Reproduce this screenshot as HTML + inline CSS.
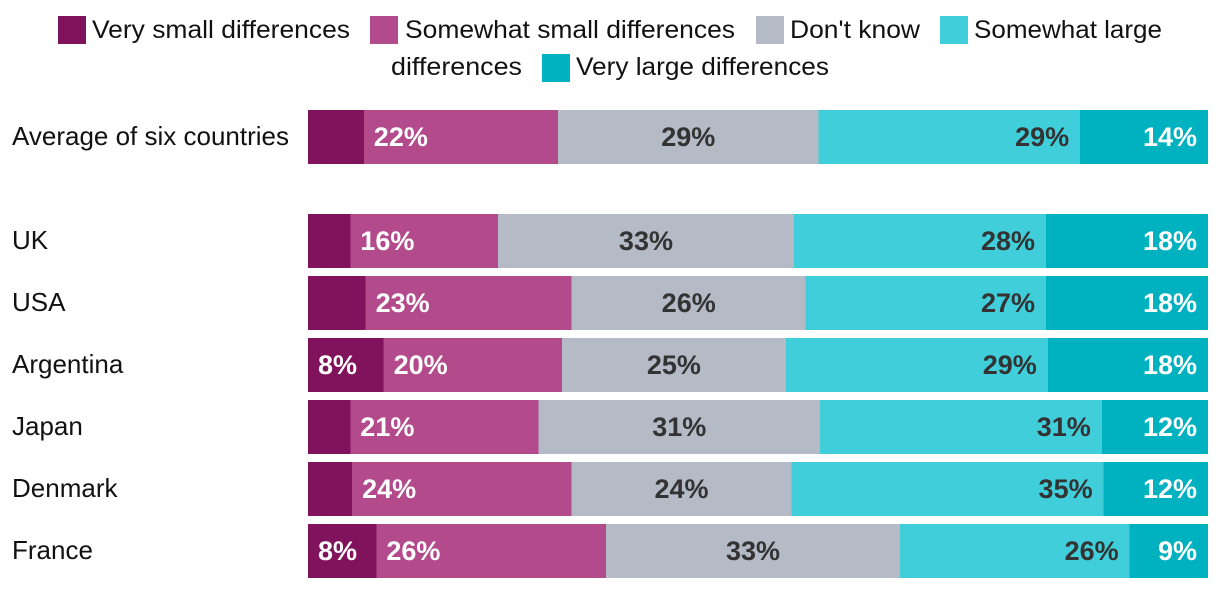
<!DOCTYPE html>
<html lang="en">
<head>
<meta charset="utf-8">
<title>Perceived differences by country</title>
<style>
  html, body { margin: 0; padding: 0; background: #fff; }
  body { width: 1220px; height: 590px; overflow: hidden; }
  svg { display: block; }
  text { font-family: "Liberation Sans", sans-serif; }
  .legend-text { font-size: 25px; fill: #111; }
  .cat-label { font-size: 26px; fill: #111; }
  .value-label { font-size: 27px; font-weight: 700; }
  rect { shape-rendering: crispEdges; }
</style>
</head>
<body>
<svg id="chart" width="1220" height="590" viewBox="0 0 1220 590" xmlns="http://www.w3.org/2000/svg">
  <g>
    <g>
      <rect x="58" y="16" width="28" height="28" fill="#81125c"/>
      <text class="legend-text" x="92" y="38" textLength="258" lengthAdjust="spacingAndGlyphs">Very small differences</text>
    </g>
    <g>
      <rect x="370" y="16" width="28" height="28" fill="#b34a8c"/>
      <text class="legend-text" x="405" y="38" textLength="330" lengthAdjust="spacingAndGlyphs">Somewhat small differences</text>
    </g>
    <g>
      <rect x="756" y="16" width="28" height="28" fill="#b4bac6"/>
      <text class="legend-text" x="790" y="38" textLength="130" lengthAdjust="spacingAndGlyphs">Don't know</text>
    </g>
    <g>
      <rect x="940" y="16" width="28" height="28" fill="#41cedb"/>
      <text class="legend-text" x="974" y="38" textLength="188" lengthAdjust="spacingAndGlyphs">Somewhat large</text>
      <text class="legend-text" x="391" y="75" textLength="131" lengthAdjust="spacingAndGlyphs">differences</text>
    </g>
    <g>
      <rect x="542" y="54" width="28" height="28" fill="#00b1bf"/>
      <text class="legend-text" x="576" y="75" textLength="253" lengthAdjust="spacingAndGlyphs">Very large differences</text>
    </g>
  </g>
  <g id="rows"></g>
</svg>
<script>
var categories = ["Average of six countries", "", "UK", "USA", "Argentina", "Japan", "Denmark", "France"];
var verySmall     = [6.2, null, 4.7, 6.4, 8.4, 4.7, 4.9, 7.6];
var somewhatSmall = [21.6, null, 16.4, 22.9, 19.8, 20.9, 24.4, 25.5];
var dontKnow      = [28.9, null, 32.9, 26.0, 24.9, 31.3, 24.4, 32.7];
var somewhatLarge = [29.1, null, 28.0, 26.7, 29.1, 31.3, 34.7, 25.5];
var veryLarge     = [14.2, null, 18.0, 18.0, 17.8, 11.8, 11.6, 8.7];

var seriesValues = [verySmall, somewhatSmall, dontKnow, somewhatLarge, veryLarge];
var seriesKeys = ["very-small", "somewhat-small", "dont-know", "somewhat-large", "very-large"];
var seriesColors = ["#81125c", "#b34a8c", "#b4bac6", "#41cedb", "#00b1bf"];
var labelColors = ["#fff", "#fff", "#333", "#333", "#fff"];

var NS = "http://www.w3.org/2000/svg";
var rowsGroup = document.getElementById("rows");
var PLOT_LEFT = 308, PLOT_WIDTH = 900, BAR_H = 54;
var MIN_LABEL_VALUE = 7.5;

function xScale(v) { return PLOT_LEFT + v / 100 * PLOT_WIDTH; }
function rowTop(i) {
  // Row 0 sits at 110; row 1 is the blank spacer; rows are 62px apart from the UK on.
  return i === 0 ? 110 : 214 + (i - 2) * 62;
}
function slug(s) { return s.toLowerCase().replace(/[^a-z0-9]+/g, "-"); }

categories.forEach(function (cat, i) {
  if (!cat) return;
  var top = rowTop(i);
  var mid = top + BAR_H / 2;

  var rowG = document.createElementNS(NS, "g");
  
  
  rowsGroup.appendChild(rowG);

  var catText = document.createElementNS(NS, "text");
  
  
  catText.setAttribute("class", "cat-label");
  catText.setAttribute("x", 12);
  catText.setAttribute("y", mid + 8);
  catText.textContent = cat;
  rowG.appendChild(catText);

  var cum = 0;
  seriesValues.forEach(function (vals, s) {
    var v = vals[i];
    var x0 = xScale(cum);
    var x1 = xScale(cum + v);
    cum += v;

    var rect = document.createElementNS(NS, "rect");
    
    
    rect.setAttribute("x", x0);
    rect.setAttribute("y", top);
    rect.setAttribute("width", x1 - x0);
    rect.setAttribute("height", BAR_H);
    rect.setAttribute("fill", seriesColors[s]);
    rowG.appendChild(rect);

    if (v < MIN_LABEL_VALUE) return;

    var label = document.createElementNS(NS, "text");
    
    
    label.setAttribute("class", "value-label");
    label.setAttribute("fill", labelColors[s]);
    label.setAttribute("y", mid + 9);
    var anchor, lx;
    if (s < 2) { anchor = "start"; lx = x0 + 10; }
    else if (s === 2) { anchor = "middle"; lx = (x0 + x1) / 2; }
    else { anchor = "end"; lx = x1 - 11; }
    label.setAttribute("x", lx);
    label.setAttribute("text-anchor", anchor);
    label.textContent = Math.round(v) + "%";
    rowG.appendChild(label);
  });
});
</script>
</body>
</html>
